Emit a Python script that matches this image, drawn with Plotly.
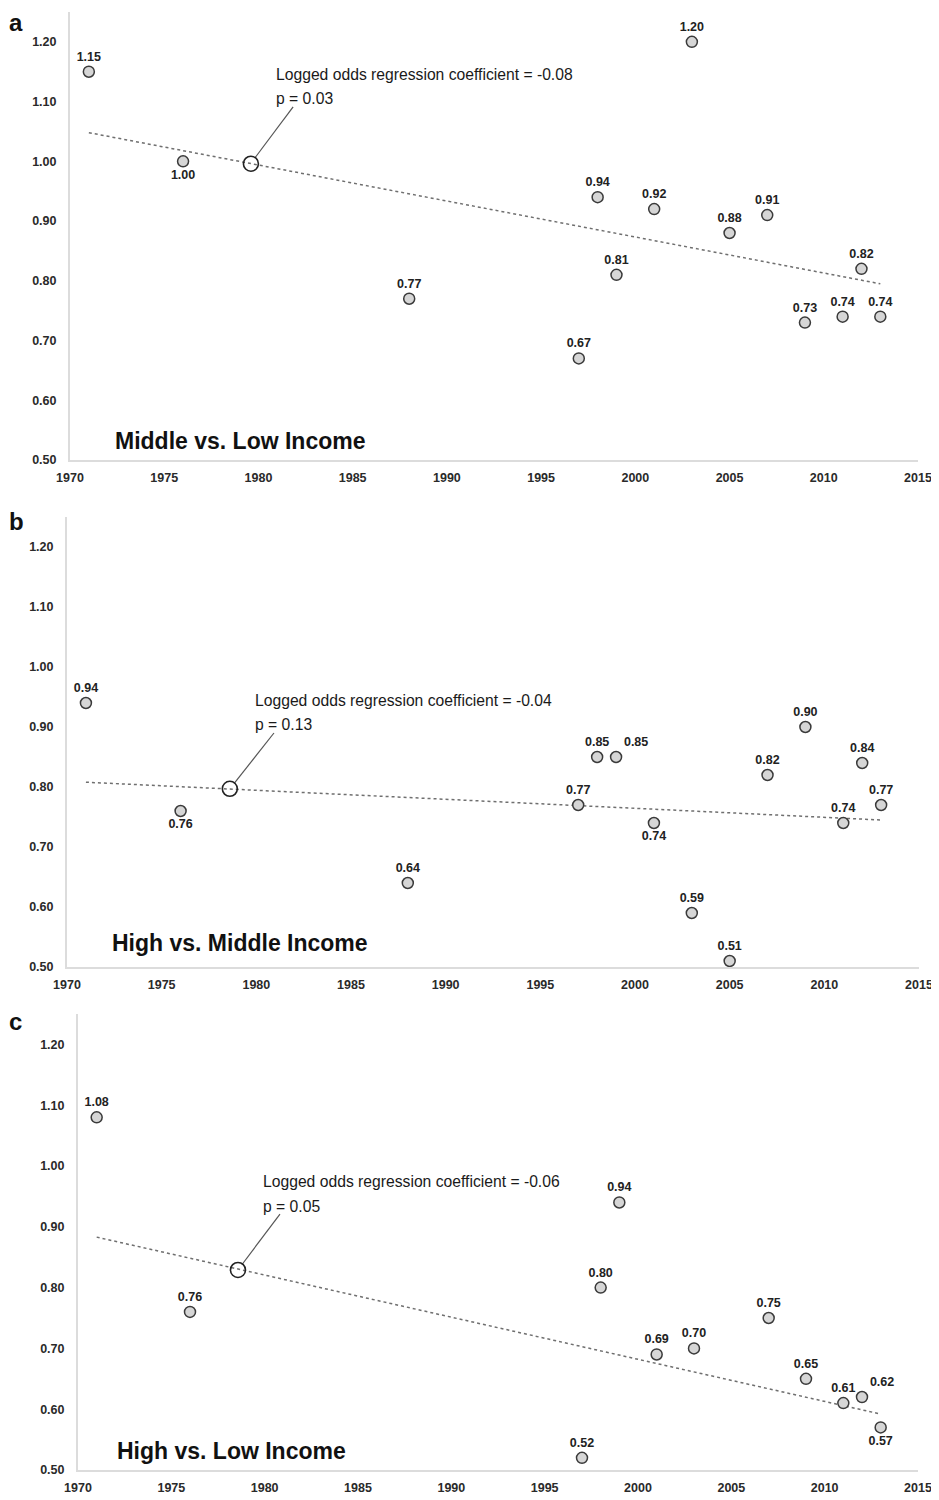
import plotly.graph_objects as go

# ---------------- data ----------------
years_a = [1971, 1976, 1988, 1997, 1998, 1999, 2001, 2003, 2005, 2007, 2009, 2011, 2012, 2013]
vals_a = [1.15, 1.00, 0.77, 0.67, 0.94, 0.81, 0.92, 1.20, 0.88, 0.91, 0.73, 0.74, 0.82, 0.74]
below_a = [1976]
right_a = []

years_b = [1971, 1976, 1988, 1997, 1998, 1999, 2001, 2003, 2005, 2007, 2009, 2011, 2012, 2013]
vals_b = [0.94, 0.76, 0.64, 0.77, 0.85, 0.85, 0.74, 0.59, 0.51, 0.82, 0.90, 0.74, 0.84, 0.77]
below_b = [1976, 2001]
right_b = [1999]

years_c = [1971, 1976, 1997, 1998, 1999, 2001, 2003, 2007, 2009, 2011, 2012, 2013]
vals_c = [1.08, 0.76, 0.52, 0.80, 0.94, 0.69, 0.70, 0.75, 0.65, 0.61, 0.62, 0.57]
below_c = [2013]
right_c = [2012]

trend_years = [1971, 2013]
trend_a = [1.048, 0.795]
trend_b = [0.808, 0.745]
trend_c = [0.883, 0.592]

# highlighted point on trend line, callout leader, text anchor
circle_a = (1979.6, 0.996); leader_a = ([1979.82, 1981.84], [1.006, 1.091]); text_a = (1980.83, 1.145, 1.105)
circle_b = (1978.6, 0.797); leader_b = ([1978.83, 1980.93], [0.806, 0.890]); text_b = (1979.82, 0.944, 0.904)
circle_c = (1978.57, 0.829); leader_c = ([1978.79, 1980.82], [0.838, 0.921]); text_c = (1979.80, 0.974, 0.934)

coefs = ["-0.08", "-0.04", "-0.06"]
pvals = ["0.03", "0.13", "0.05"]
titles = ["Middle vs. Low Income", "High vs. Middle Income", "High vs. Low Income"]
letters = ["a", "b", "c"]

x_ticks = [1970, 1975, 1980, 1985, 1990, 1995, 2000, 2005, 2010, 2015]
y_ticks = [0.50, 0.60, 0.70, 0.80, 0.90, 1.00, 1.10, 1.20]

# ---------------- layout geometry (page pixels -> paper) ----------------
W, H = 939, 1500
OFF = 8  # page body margin offset


def px(x):
    return (x - OFF) / W


def py(y):
    return 1 - (y - OFF) / H


panels = [
    dict(x0=70, x1=918, y0=12, y1=460),
    dict(x0=67, x1=919, y0=517, y1=967),
    dict(x0=78, x1=918, y0=1014, y1=1470),
]
title_pos = [(113, 441), (110, 943), (115, 1451)]
letter_pos = [(8, 8, "top"), (8, 521, "middle"), (8, 1021, "middle")]

FONT = "Liberation Sans, Arial, sans-serif"

fig = go.Figure()

datasets = [
    (years_a, vals_a, below_a, right_a, trend_a, circle_a, leader_a, text_a),
    (years_b, vals_b, below_b, right_b, trend_b, circle_b, leader_b, text_b),
    (years_c, vals_c, below_c, right_c, trend_c, circle_c, leader_c, text_c),
]

annotations = []
for i, (yrs, vals, below, right, trend, circ, leader, txt) in enumerate(datasets):
    sfx = "" if i == 0 else str(i + 1)
    xa, ya = "x" + sfx, "y" + sfx
    fig.add_trace(go.Scatter(
        x=trend_years, y=trend, mode="lines", xaxis=xa, yaxis=ya,
        line=dict(color="#6f6f6f", width=1.5, dash="dot"),
        hoverinfo="skip", showlegend=False))
    fig.add_trace(go.Scatter(
        x=leader[0], y=leader[1], mode="lines", xaxis=xa, yaxis=ya,
        line=dict(color="#555555", width=1.2),
        hoverinfo="skip", showlegend=False))
    fig.add_trace(go.Scatter(
        x=[circ[0]], y=[circ[1]], mode="markers", xaxis=xa, yaxis=ya,
        marker=dict(size=15, color="rgba(255,255,255,0)",
                    line=dict(color="#222222", width=1.6)),
        hoverinfo="skip", showlegend=False, cliponaxis=False))
    positions = []
    for yv in yrs:
        if yv in below:
            positions.append("bottom center")
        elif yv in right:
            positions.append("top right")
        else:
            positions.append("top center")
    fig.add_trace(go.Scatter(
        x=yrs, y=vals, mode="markers+text", xaxis=xa, yaxis=ya,
        text=[f"{v:.2f}" for v in vals], textposition=positions,
        textfont=dict(family=FONT, size=12.5, color="#222222", weight="bold"),
        marker=dict(size=11, color="#d6d6d6", line=dict(color="#3a3a3a", width=1.5)),
        showlegend=False, cliponaxis=False))
    annotations.append(dict(
        x=txt[0], y=txt[1], xref=xa, yref=ya, xanchor="left", yanchor="middle",
        text=f"Logged odds regression coefficient = {coefs[i]}", showarrow=False,
        font=dict(family=FONT, size=15.7, color="#1a1a1a")))
    annotations.append(dict(
        x=txt[0], y=txt[2], xref=xa, yref=ya, xanchor="left", yanchor="middle",
        text=f"p = {pvals[i]}", showarrow=False,
        font=dict(family=FONT, size=15.7, color="#1a1a1a")))
    tx, ty = title_pos[i]
    annotations.append(dict(
        x=px(tx), y=py(ty), xref="paper", yref="paper", xanchor="left", yanchor="middle",
        text=f"<b>{titles[i]}</b>", showarrow=False,
        font=dict(family=FONT, size=23, color="#111111")))
    lx, ly, lanchor = letter_pos[i]
    annotations.append(dict(
        x=px(lx), y=py(ly), xref="paper", yref="paper", xanchor="left", yanchor=lanchor,
        text=f"<b>{letters[i]}</b>", showarrow=False, borderpad=0,
        font=dict(family=FONT, size=24, color="#111111")))

layout = dict(
    width=W, height=H, margin=dict(l=0, r=0, t=0, b=0, autoexpand=False),
    paper_bgcolor="white", plot_bgcolor="white",
    annotations=annotations, showlegend=False,
)
for i, p in enumerate(panels):
    sfx = "" if i == 0 else str(i + 1)
    layout["xaxis" + sfx] = dict(
        domain=[px(p["x0"]), px(p["x1"])], anchor="y" + sfx, automargin=False,
        range=[1970, 2015], tickvals=x_ticks, ticktext=[str(t) for t in x_ticks],
        showgrid=False, zeroline=False, showline=True, linecolor="#dcdcdc", linewidth=2,
        ticks="", ticklabelstandoff=5,
        tickfont=dict(family=FONT, size=12.5, color="#2a2a2a", weight="bold"))
    layout["yaxis" + sfx] = dict(
        domain=[py(p["y1"]), py(p["y0"])], anchor="x" + sfx, automargin=False,
        range=[0.5, 1.25], tickvals=y_ticks, ticktext=[f"{t:.2f}" for t in y_ticks],
        showgrid=False, zeroline=False, showline=True, linecolor="#dcdcdc", linewidth=2,
        ticks="", ticklabelstandoff=9,
        tickfont=dict(family=FONT, size=12.5, color="#2a2a2a", weight="bold"))

fig.update_layout(**layout)
fig.write_html("out.html")
